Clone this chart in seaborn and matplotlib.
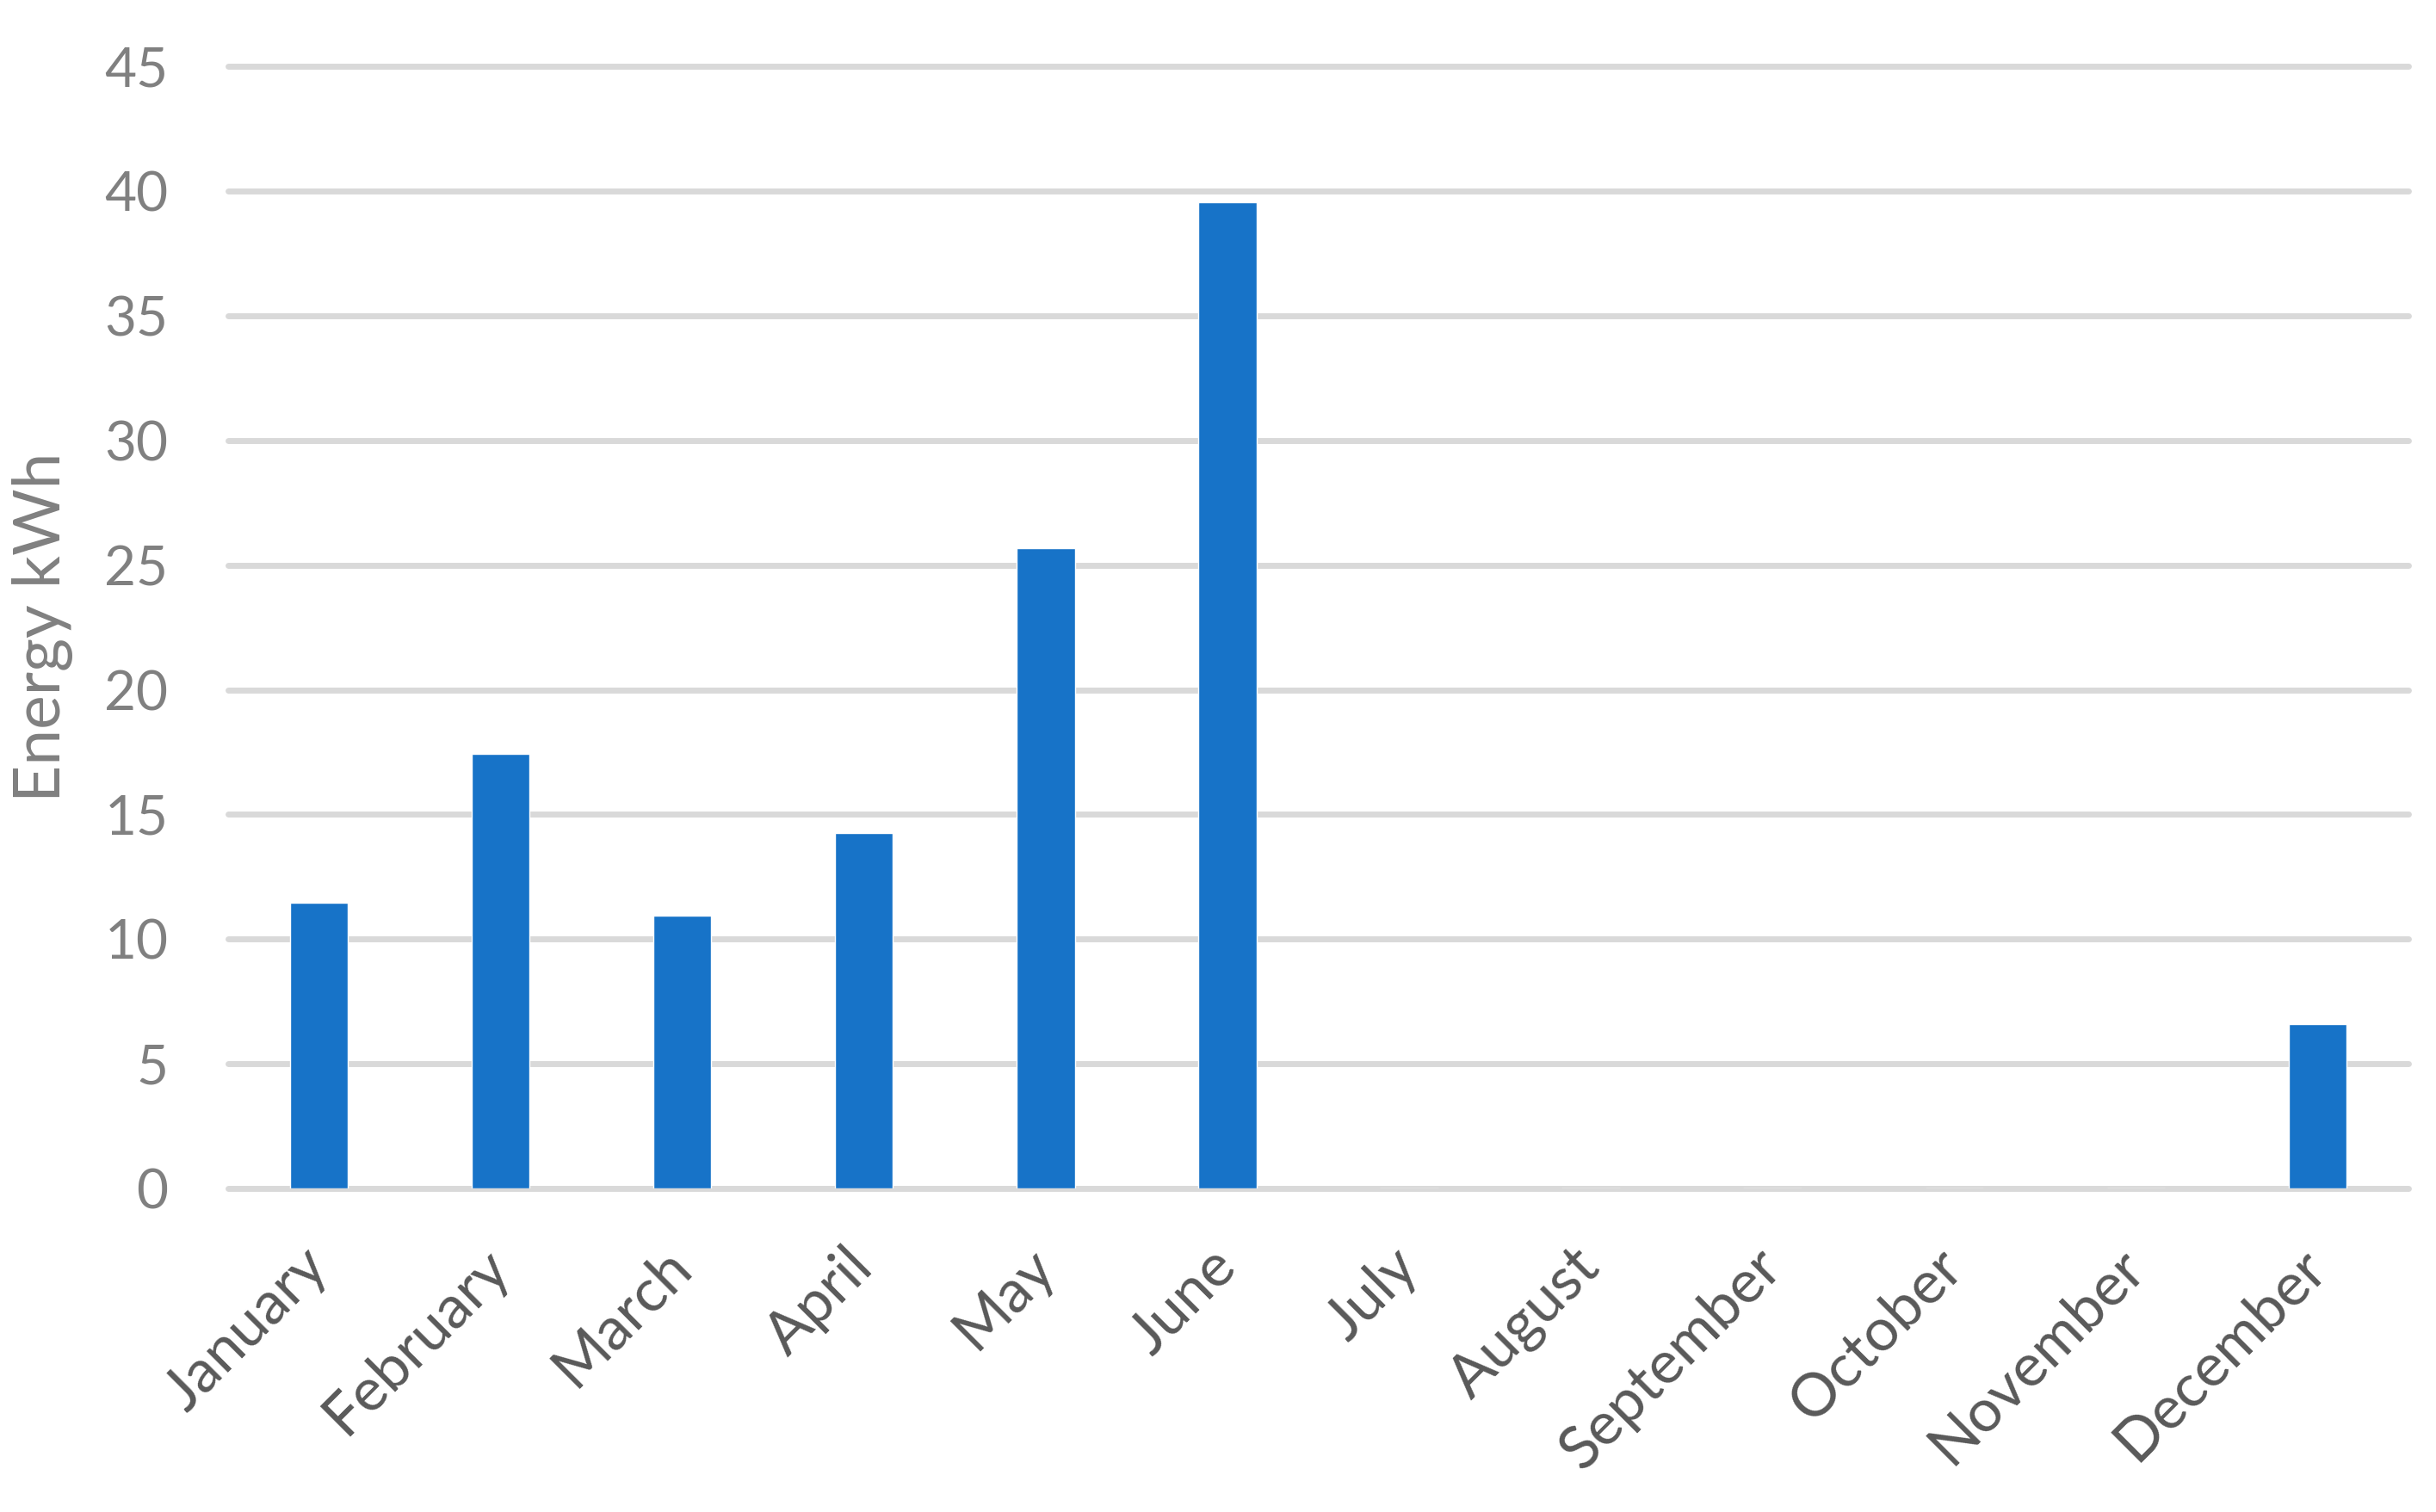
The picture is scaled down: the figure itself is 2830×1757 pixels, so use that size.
import matplotlib
matplotlib.use("Agg")
import matplotlib.pyplot as plt
import seaborn as sns
import pandas as pd

# ── Data ──────────────────────────────────────────────────────────────────────
MONTHS = ["January", "February", "March", "April", "May", "June",
          "July", "August", "September", "October", "November", "December"]
ENERGY_KWH = [11.46, 17.43, 10.94, 14.25, 25.67, 39.54,
              0, 0, 0, 0, 0, 6.59]
Y_TICKS = [0, 5, 10, 15, 20, 25, 30, 35, 40, 45]

BAR_COLOR = "#1773c8"
GRID_COLOR = "#d9d9d9"

sns.set_theme(style="white")
plt.rcParams["font.family"] = ["Lato", "DejaVu Sans"]

df = pd.DataFrame({"month": MONTHS, "energy": ENERGY_KWH})

fig = plt.figure(figsize=(28.3, 17.57), dpi=100)
ax = fig.add_axes([0.0936, 0.214, 0.8951, 0.742])

sns.barplot(data=df, x="month", y="energy", color=BAR_COLOR,
            saturation=1, width=0.32, ax=ax, zorder=3)

ax.set_xlim(-0.5, 11.5)
ax.set_ylim(0, 45)
ax.set_yticks(Y_TICKS)

# horizontal grid only
ax.grid(axis="y", color=GRID_COLOR, linewidth=5)
ax.grid(axis="x", visible=False)
ax.set_axisbelow(True)
for line in ax.get_ygridlines():
    line.set_clip_on(False)

for side in ["top", "right", "left", "bottom"]:
    ax.spines[side].set_visible(False)

ax.tick_params(axis="y", length=0, pad=50, labelsize=46, labelcolor="#808080")
ax.tick_params(axis="x", length=0, pad=58, labelsize=50, labelcolor="#595959")
ax.set_xticks(range(len(MONTHS)))
ax.set_xticklabels(MONTHS, rotation=45, ha="right", va="center",
                   rotation_mode="anchor")

ax.set_xlabel("")
ax.set_ylabel("Energy kWh", fontsize=54, color="#808080")
ax.yaxis.set_label_coords(-0.071, 0.5)

fig.savefig("out.png", dpi=100)
